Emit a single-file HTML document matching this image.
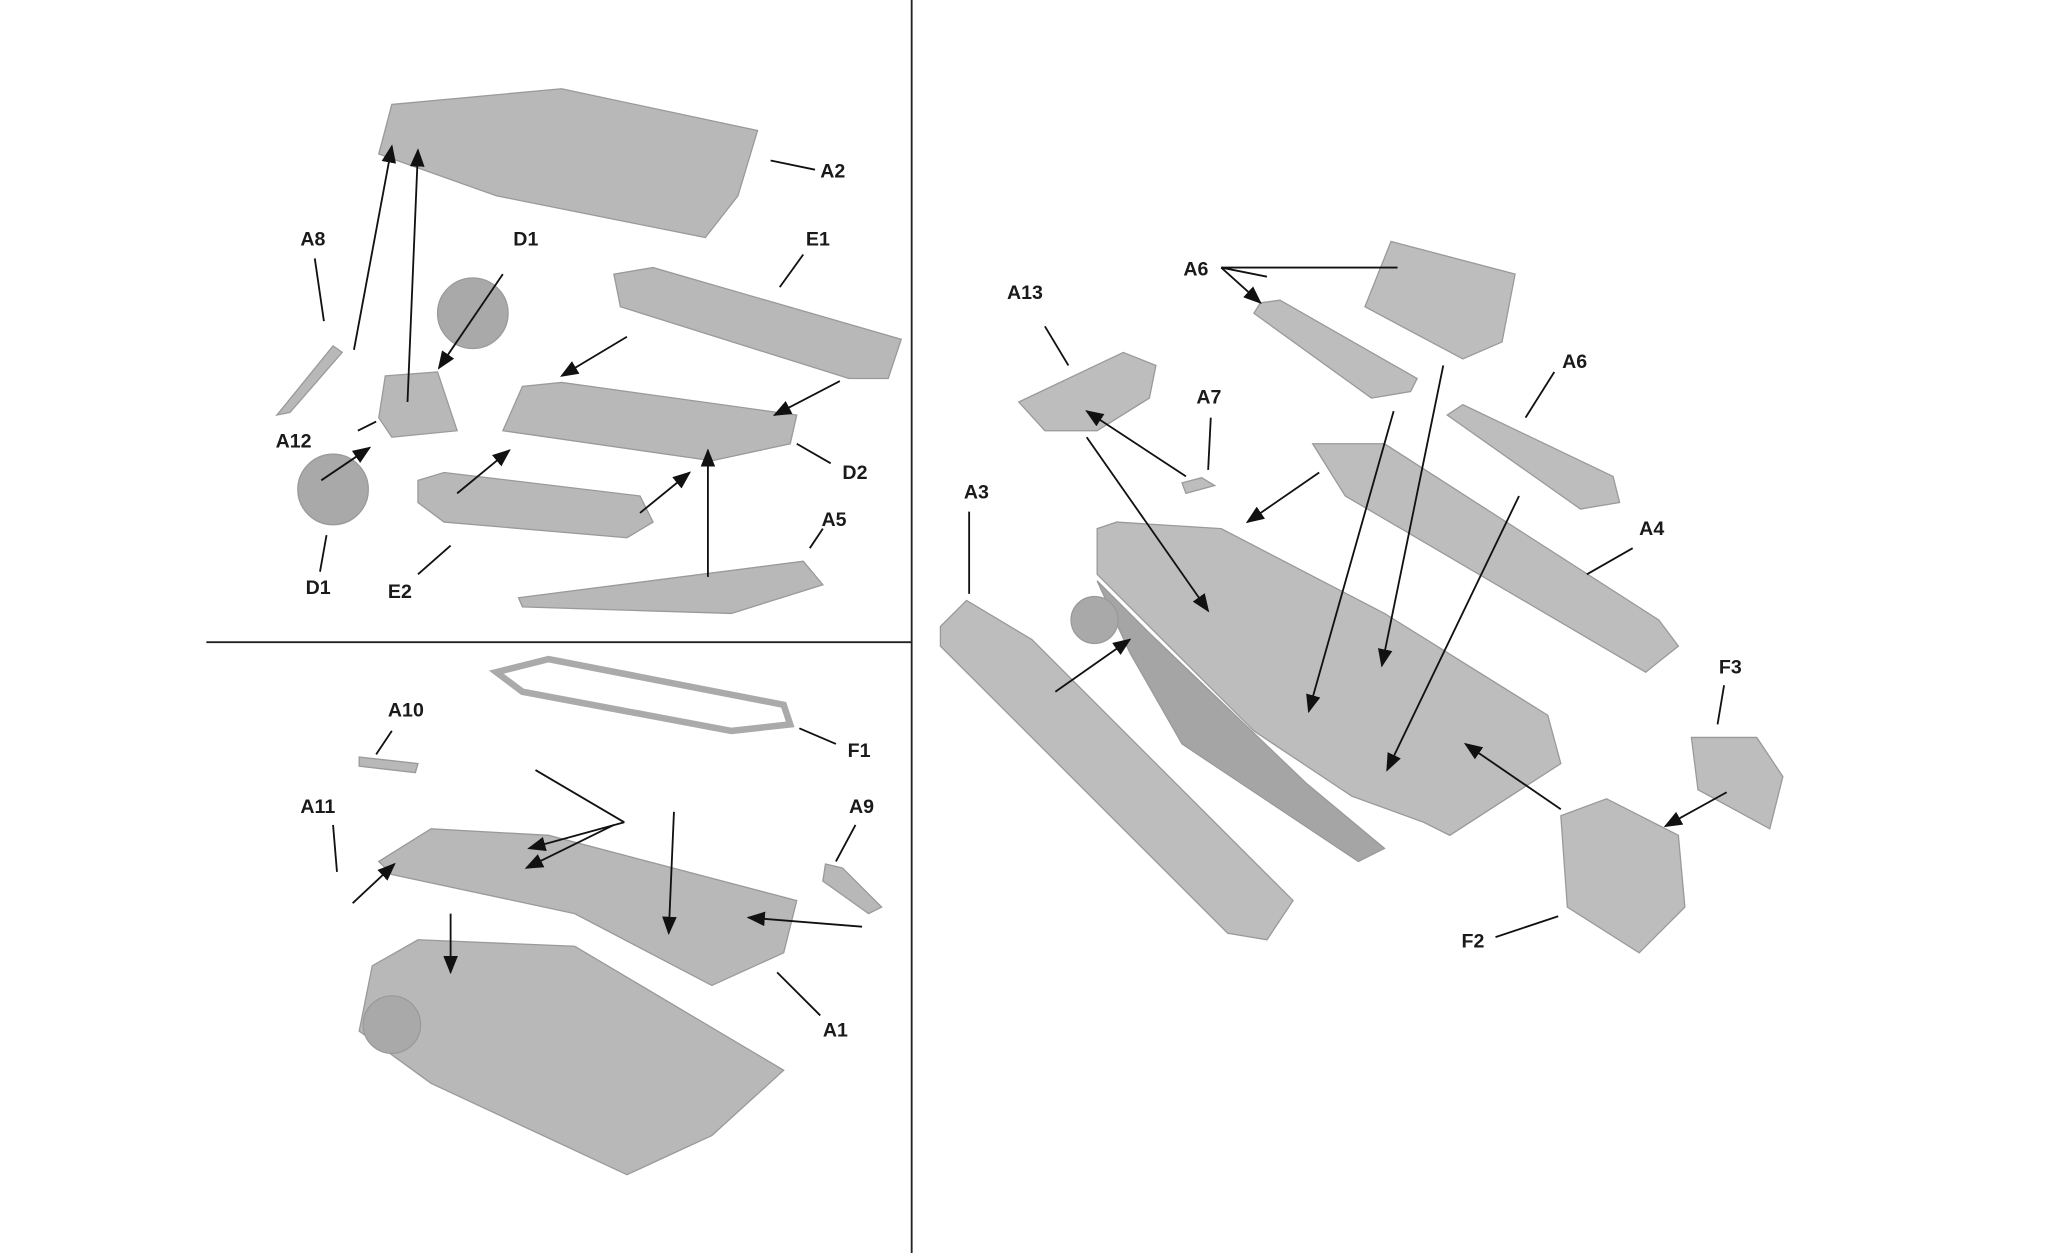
<!DOCTYPE html>
<html><head><meta charset="utf-8"><style>
html,body{margin:0;padding:0;background:#fff;}
svg{display:block;}
text{font-family:"Liberation Sans",sans-serif;font-weight:bold;font-size:15px;fill:#1a1a1a;}
</style></head><body>
<svg width="2048" height="1253" viewBox="0 0 1568 960" preserveAspectRatio="none" xmlns="http://www.w3.org/2000/svg">
<defs><marker id="ah" markerWidth="10" markerHeight="8" refX="9" refY="4" orient="auto"><path d="M0,0 L10,4 L0,8 z" fill="#111"/></marker></defs>
<g stroke="#222" stroke-width="1.4" fill="none">
<line x1="698" y1="0" x2="698" y2="960"/>
<line x1="158" y1="492" x2="698" y2="492"/>
</g>
<!-- top-left parts -->
<g fill="#b8b8b8" stroke="#9a9a9a" stroke-width="1">
<polygon points="300,80 430,68 580,100 565,150 540,182 380,150 290,118"/>
<polygon points="470,210 500,205 690,260 680,290 650,290 475,235"/>
<circle cx="362" cy="240" r="27" fill="#a9a9a9"/>
<polygon points="400,296 430,293 610,318 605,340 545,353 385,330"/>
<polygon points="320,368 340,362 490,380 500,400 480,412 340,400 320,385"/>
<circle cx="255" cy="375" r="27" fill="#a9a9a9"/>
<polygon points="295,288 335,285 350,330 300,335 290,320"/>
<polygon points="212,318 255,265 262,270 222,316"/>
<polygon points="397,458 615,430 630,448 560,470 400,465"/>
</g>
<!-- bottom-left parts -->
<g fill="#b8b8b8" stroke="#9a9a9a" stroke-width="1">
<polygon points="380,515 420,505 600,540 605,555 560,560 400,530" fill="none" stroke="#aaa" stroke-width="5"/>
<polygon points="290,660 330,635 420,640 610,690 600,730 545,755 440,700 300,670"/>
<polygon points="285,740 320,720 440,725 600,820 545,870 480,900 330,830 275,790"/>
<circle cx="300" cy="785" r="22" fill="#a9a9a9"/>
<polygon points="275,580 320,585 318,592 275,587"/>
<polygon points="632,662 645,665 675,695 665,700 630,675"/>
</g>
<!-- right parts -->
<g fill="#bdbdbd" stroke="#9a9a9a" stroke-width="1">
<polygon points="780,308 860,270 885,280 880,305 840,330 800,330"/>
<polygon points="965,232 980,230 1085,290 1080,300 1050,305 960,240"/>
<polygon points="1045,235 1065,185 1160,210 1150,262 1120,275"/>
<polygon points="1108,318 1120,310 1235,365 1240,385 1210,390"/>
<polygon points="1005,340 1060,340 1270,475 1285,495 1260,515 1030,380"/>
<polygon points="720,480 740,460 790,490 990,690 970,720 940,715 720,495"/>
<polygon points="840,405 855,400 935,405 1060,470 1185,548 1195,585 1110,640 1090,630 1035,610 960,560 890,490 840,440"/>
<polygon points="840,445 880,485 1000,600 1060,650 1040,660 905,570 865,500" fill="#a5a5a5"/>
<circle cx="838" cy="475" r="18" fill="#a9a9a9"/>
<polygon points="1295,565 1345,565 1365,595 1355,635 1300,605"/>
<polygon points="1195,625 1230,612 1285,640 1290,695 1255,730 1200,695"/>
<polygon points="905,370 920,366 930,372 908,378"/>
</g>
<!-- arrows / leader lines -->
<g stroke="#111" stroke-width="1.4" fill="none">
<line x1="271" y1="268" x2="300" y2="112" marker-end="url(#ah)"/>
<line x1="312" y1="308" x2="320" y2="115" marker-end="url(#ah)"/>
<line x1="248" y1="246" x2="241" y2="198"/>
<line x1="385" y1="210" x2="336" y2="282" marker-end="url(#ah)"/>
<line x1="480" y1="258" x2="430" y2="288" marker-end="url(#ah)"/>
<line x1="643" y1="292" x2="593" y2="318" marker-end="url(#ah)"/>
<line x1="350" y1="378" x2="390" y2="345" marker-end="url(#ah)"/>
<line x1="490" y1="393" x2="528" y2="362" marker-end="url(#ah)"/>
<line x1="542" y1="442" x2="542" y2="345" marker-end="url(#ah)"/>
<line x1="246" y1="368" x2="283" y2="343" marker-end="url(#ah)"/>
<line x1="590" y1="123" x2="624" y2="130"/><line x1="597" y1="220" x2="615" y2="195"/>
<line x1="274" y1="330" x2="288" y2="323"/><line x1="610" y1="340" x2="636" y2="355"/>
<line x1="620" y1="420" x2="630" y2="405"/><line x1="245" y1="438" x2="250" y2="410"/>
<line x1="320" y1="440" x2="345" y2="418"/>
<line x1="470" y1="632" x2="403" y2="665" marker-end="url(#ah)"/>
<line x1="410" y1="590" x2="478" y2="630"/>
<line x1="478" y1="630" x2="405" y2="650" marker-end="url(#ah)"/>
<line x1="516" y1="622" x2="512" y2="715" marker-end="url(#ah)"/>
<line x1="270" y1="692" x2="302" y2="662" marker-end="url(#ah)"/>
<line x1="660" y1="710" x2="573" y2="703" marker-end="url(#ah)"/>
<line x1="345" y1="700" x2="345" y2="745" marker-end="url(#ah)"/>
<line x1="612" y1="558" x2="640" y2="570"/><line x1="300" y1="560" x2="288" y2="578"/>
<line x1="255" y1="632" x2="258" y2="668"/><line x1="655" y1="632" x2="640" y2="660"/>
<line x1="595" y1="745" x2="628" y2="778"/>
<line x1="818" y1="280" x2="800" y2="250"/>
<line x1="908" y1="365" x2="832" y2="315" marker-end="url(#ah)"/>
<line x1="832" y1="335" x2="925" y2="468" marker-end="url(#ah)"/>
<line x1="925" y1="360" x2="927" y2="320"/>
<line x1="1010" y1="362" x2="955" y2="400" marker-end="url(#ah)"/>
<line x1="1070" y1="205" x2="935" y2="205"/>
<line x1="935" y1="205" x2="965" y2="232" marker-end="url(#ah)"/>
<line x1="935" y1="205" x2="970" y2="212"/>
<line x1="1067" y1="315" x2="1002" y2="545" marker-end="url(#ah)"/>
<line x1="1105" y1="280" x2="1058" y2="510" marker-end="url(#ah)"/>
<line x1="1163" y1="380" x2="1062" y2="590" marker-end="url(#ah)"/>
<line x1="1190" y1="285" x2="1168" y2="320"/>
<line x1="1195" y1="620" x2="1122" y2="570" marker-end="url(#ah)"/>
<line x1="1322" y1="607" x2="1275" y2="633" marker-end="url(#ah)"/>
<line x1="1320" y1="525" x2="1315" y2="555"/>
<line x1="808" y1="530" x2="865" y2="490" marker-end="url(#ah)"/>
<line x1="742" y1="392" x2="742" y2="455"/>
<line x1="1250" y1="420" x2="1215" y2="440"/>
<line x1="1145" y1="718" x2="1193" y2="702"/>
</g>
<g>
<text x="628" y="136">A2</text><text x="230" y="188">A8</text><text x="393" y="188">D1</text>
<text x="617" y="188">E1</text><text x="211" y="343">A12</text><text x="645" y="367">D2</text>
<text x="629" y="403">A5</text><text x="234" y="455">D1</text><text x="297" y="458">E2</text>
<text x="297" y="549">A10</text><text x="649" y="580">F1</text><text x="230" y="623">A11</text>
<text x="650" y="623">A9</text><text x="630" y="794">A1</text>
<text x="771" y="229">A13</text><text x="906" y="211">A6</text><text x="1196" y="282">A6</text>
<text x="916" y="309">A7</text><text x="738" y="382">A3</text><text x="1255" y="410">A4</text>
<text x="1316" y="516">F3</text><text x="1119" y="726">F2</text>
</g>
</svg>
</body></html>
